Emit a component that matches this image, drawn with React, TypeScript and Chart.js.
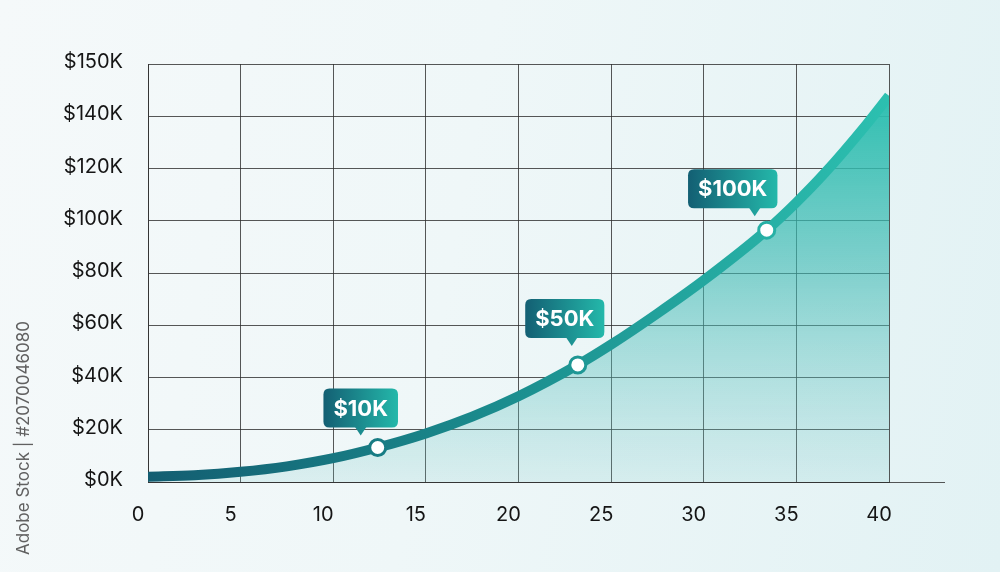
import React, { useEffect, useRef } from "react";
import { Chart, registerables } from "chart.js";

Chart.register(...registerables);

// ---- data ----
const years = [0, 2.5, 5, 7.5, 10, 12.4, 15, 17.5, 20, 23.2, 25, 27.5, 30, 33.4, 35, 36.5, 38.8, 40];
const balance = [2.0, 2.6, 3.9, 6.0, 9.1, 13.2, 18.6, 25.0, 32.8, 44.8, 52.6, 64.5, 77.2, 96.4, 107, 118, 137, 147.8];

const markerYears = [12.4, 23.2, 33.4];
const markerValues = [13.2, 44.8, 96.4];
const markerLabels = ["$10K", "$50K", "$100K"];

const xTickLabels = ["0", "5", "10", "15", "20", "25", "30", "35", "40"];
const yTickLabels = ["$0K", "$20K", "$40K", "$60K", "$80K", "$100K", "$120K", "$140K", "$150K"];

// ---- style (callout placement relative to each marker, in px) ----
const calloutBoxDx = [-17, -13, -34];
const calloutPointerDx = [-17, -6, -12];
const calloutGap = [20, 27, 22];

const FONT = "Inter, 'Noto Sans', sans-serif";
const GRID = "rgba(45,45,45,0.8)";
const DARK = "#135d71";
const BRIGHT = "#2cc0b0";

function lineGradient(chart: any) {
  const { ctx, chartArea } = chart;
  if (!chartArea) return DARK;
  const g = ctx.createLinearGradient(chartArea.left, 0, chartArea.right, 0);
  g.addColorStop(0, DARK);
  g.addColorStop(0.45, "#1a8a8c");
  g.addColorStop(1, BRIGHT);
  return g;
}

function fillGradient(chart: any) {
  const { ctx, chartArea } = chart;
  if (!chartArea) return "rgba(44,190,176,0.3)";
  const g = ctx.createLinearGradient(0, chartArea.top + 20, 0, chartArea.bottom);
  g.addColorStop(0, "rgba(40,190,174,1)");
  g.addColorStop(0.45, "rgba(60,185,178,0.62)");
  g.addColorStop(1, "rgba(120,200,200,0.18)");
  return g;
}

const axisExtension = {
  id: "axisExtension",
  afterDraw(chart: any) {
    const { ctx, chartArea } = chart;
    ctx.save();
    ctx.strokeStyle = GRID;
    ctx.lineWidth = 1;
    ctx.beginPath();
    ctx.moveTo(chartArea.right, chartArea.bottom + 0.5);
    ctx.lineTo(chartArea.right + 56, chartArea.bottom + 0.5);
    ctx.stroke();
    ctx.restore();
  },
};

function roundRect(ctx: CanvasRenderingContext2D, x: number, y: number, w: number, h: number, r: number) {
  ctx.beginPath();
  ctx.moveTo(x + r, y);
  ctx.lineTo(x + w - r, y);
  ctx.quadraticCurveTo(x + w, y, x + w, y + r);
  ctx.lineTo(x + w, y + h - r);
  ctx.quadraticCurveTo(x + w, y + h, x + w - r, y + h);
  ctx.lineTo(x + r, y + h);
  ctx.quadraticCurveTo(x, y + h, x, y + h - r);
  ctx.lineTo(x, y + r);
  ctx.quadraticCurveTo(x, y, x + r, y);
  ctx.closePath();
}

const callouts = {
  id: "callouts",
  afterDatasetsDraw(chart: any) {
    const { ctx } = chart;
    const meta = chart.getDatasetMeta(1);
    ctx.save();
    ctx.font = `700 22px ${FONT}`;
    meta.data.forEach((pt: any, i: number) => {
      const label = markerLabels[i];
      const tw = ctx.measureText(label).width;
      const w = tw + 20;
      const h = 39;
      const cx = pt.x + calloutBoxDx[i];
      const bx = cx - w / 2;
      const by = pt.y - calloutGap[i] - h;
      const g = ctx.createLinearGradient(bx, 0, bx + w, 0);
      g.addColorStop(0, "#135f73");
      g.addColorStop(1, "#24b8aa");
      ctx.fillStyle = g;
      roundRect(ctx, bx, by, w, h, 6);
      ctx.fill();
      const px = pt.x + calloutPointerDx[i];
      ctx.beginPath();
      ctx.moveTo(px - 6, by + h - 1);
      ctx.lineTo(px + 6, by + h - 1);
      ctx.lineTo(px, by + h + 8);
      ctx.closePath();
      ctx.fill();
      ctx.fillStyle = "#ffffff";
      ctx.textAlign = "center";
      ctx.textBaseline = "middle";
      ctx.fillText(label, cx, by + h / 2 + 1);
    });
    ctx.restore();
  },
};

export default function App() {
  const ref = useRef<HTMLCanvasElement | null>(null);

  useEffect(() => {
    if (!ref.current) return;
    const chart = new Chart(ref.current, {
      type: "line",
      data: {
        datasets: [
          {
            data: years.map((x, i) => ({ x, y: balance[i] })),
            borderColor: (c: any) => lineGradient(c.chart),
            backgroundColor: (c: any) => fillGradient(c.chart),
            borderWidth: 10,
            fill: "origin",
            pointRadius: 0,
            cubicInterpolationMode: "monotone",
            borderCapStyle: "butt",
            order: 2,
          },
          {
            data: markerYears.map((x, i) => ({ x, y: markerValues[i] })),
            showLine: false,
            pointRadius: 8,
            pointBorderWidth: 3,
            pointBackgroundColor: "#ffffff",
            pointBorderColor: (c: any) => lineGradient(c.chart),
            order: 1,
          },
        ],
      },
      options: {
        animation: false,
        responsive: true,
        maintainAspectRatio: false,
        layout: { padding: { top: 64, right: 111, left: 0, bottom: 0 } },
        plugins: { legend: { display: false }, tooltip: { enabled: false } },
        scales: {
          x: {
            type: "linear",
            min: 0,
            max: 40,
            ticks: {
              stepSize: 5,
              padding: 21,
              labelOffset: -10,
              color: "#151515",
              font: { family: FONT, size: 20 },
              callback: (_v: any, i: number) => xTickLabels[i],
            },
            grid: { color: GRID, lineWidth: 1, drawTicks: false },
            border: { display: true, color: GRID, width: 1 },
            afterFit: (s: any) => {
              s.height = 90;
            },
          },
          y: {
            min: 0,
            max: 160,
            ticks: {
              stepSize: 20,
              padding: 25,
              labelOffset: -2,
              color: "#151515",
              font: { family: FONT, size: 20 },
              callback: (_v: any, i: number) => yTickLabels[i],
            },
            grid: { color: GRID, lineWidth: 1, drawTicks: false },
            border: { display: true, color: GRID, width: 1 },
            afterFit: (s: any) => {
              s.width = 148;
            },
          },
        },
      },
      plugins: [axisExtension, callouts],
    } as any);
    return () => chart.destroy();
  }, []);

  return (
    <div
      style={{
        position: "fixed",
        left: 0,
        top: 0,
        width: 1000,
        height: 572,
        background: "linear-gradient(100deg, #f5f9fa 0%, #eff7f8 45%, #e2f2f4 100%)",
        overflow: "hidden",
      }}
    >
      <canvas ref={ref} style={{ position: "absolute", left: 0, top: 0, width: 1000, height: 572 }} />
      <div
        style={{
          position: "absolute",
          left: 23,
          top: 438,
          transform: "translate(-50%, -50%) rotate(-90deg)",
          whiteSpace: "nowrap",
          fontFamily: FONT,
          fontSize: 17,
          color: "#606060",
        }}
      >
        Adobe Stock | #2070046080
      </div>
    </div>
  );
}
